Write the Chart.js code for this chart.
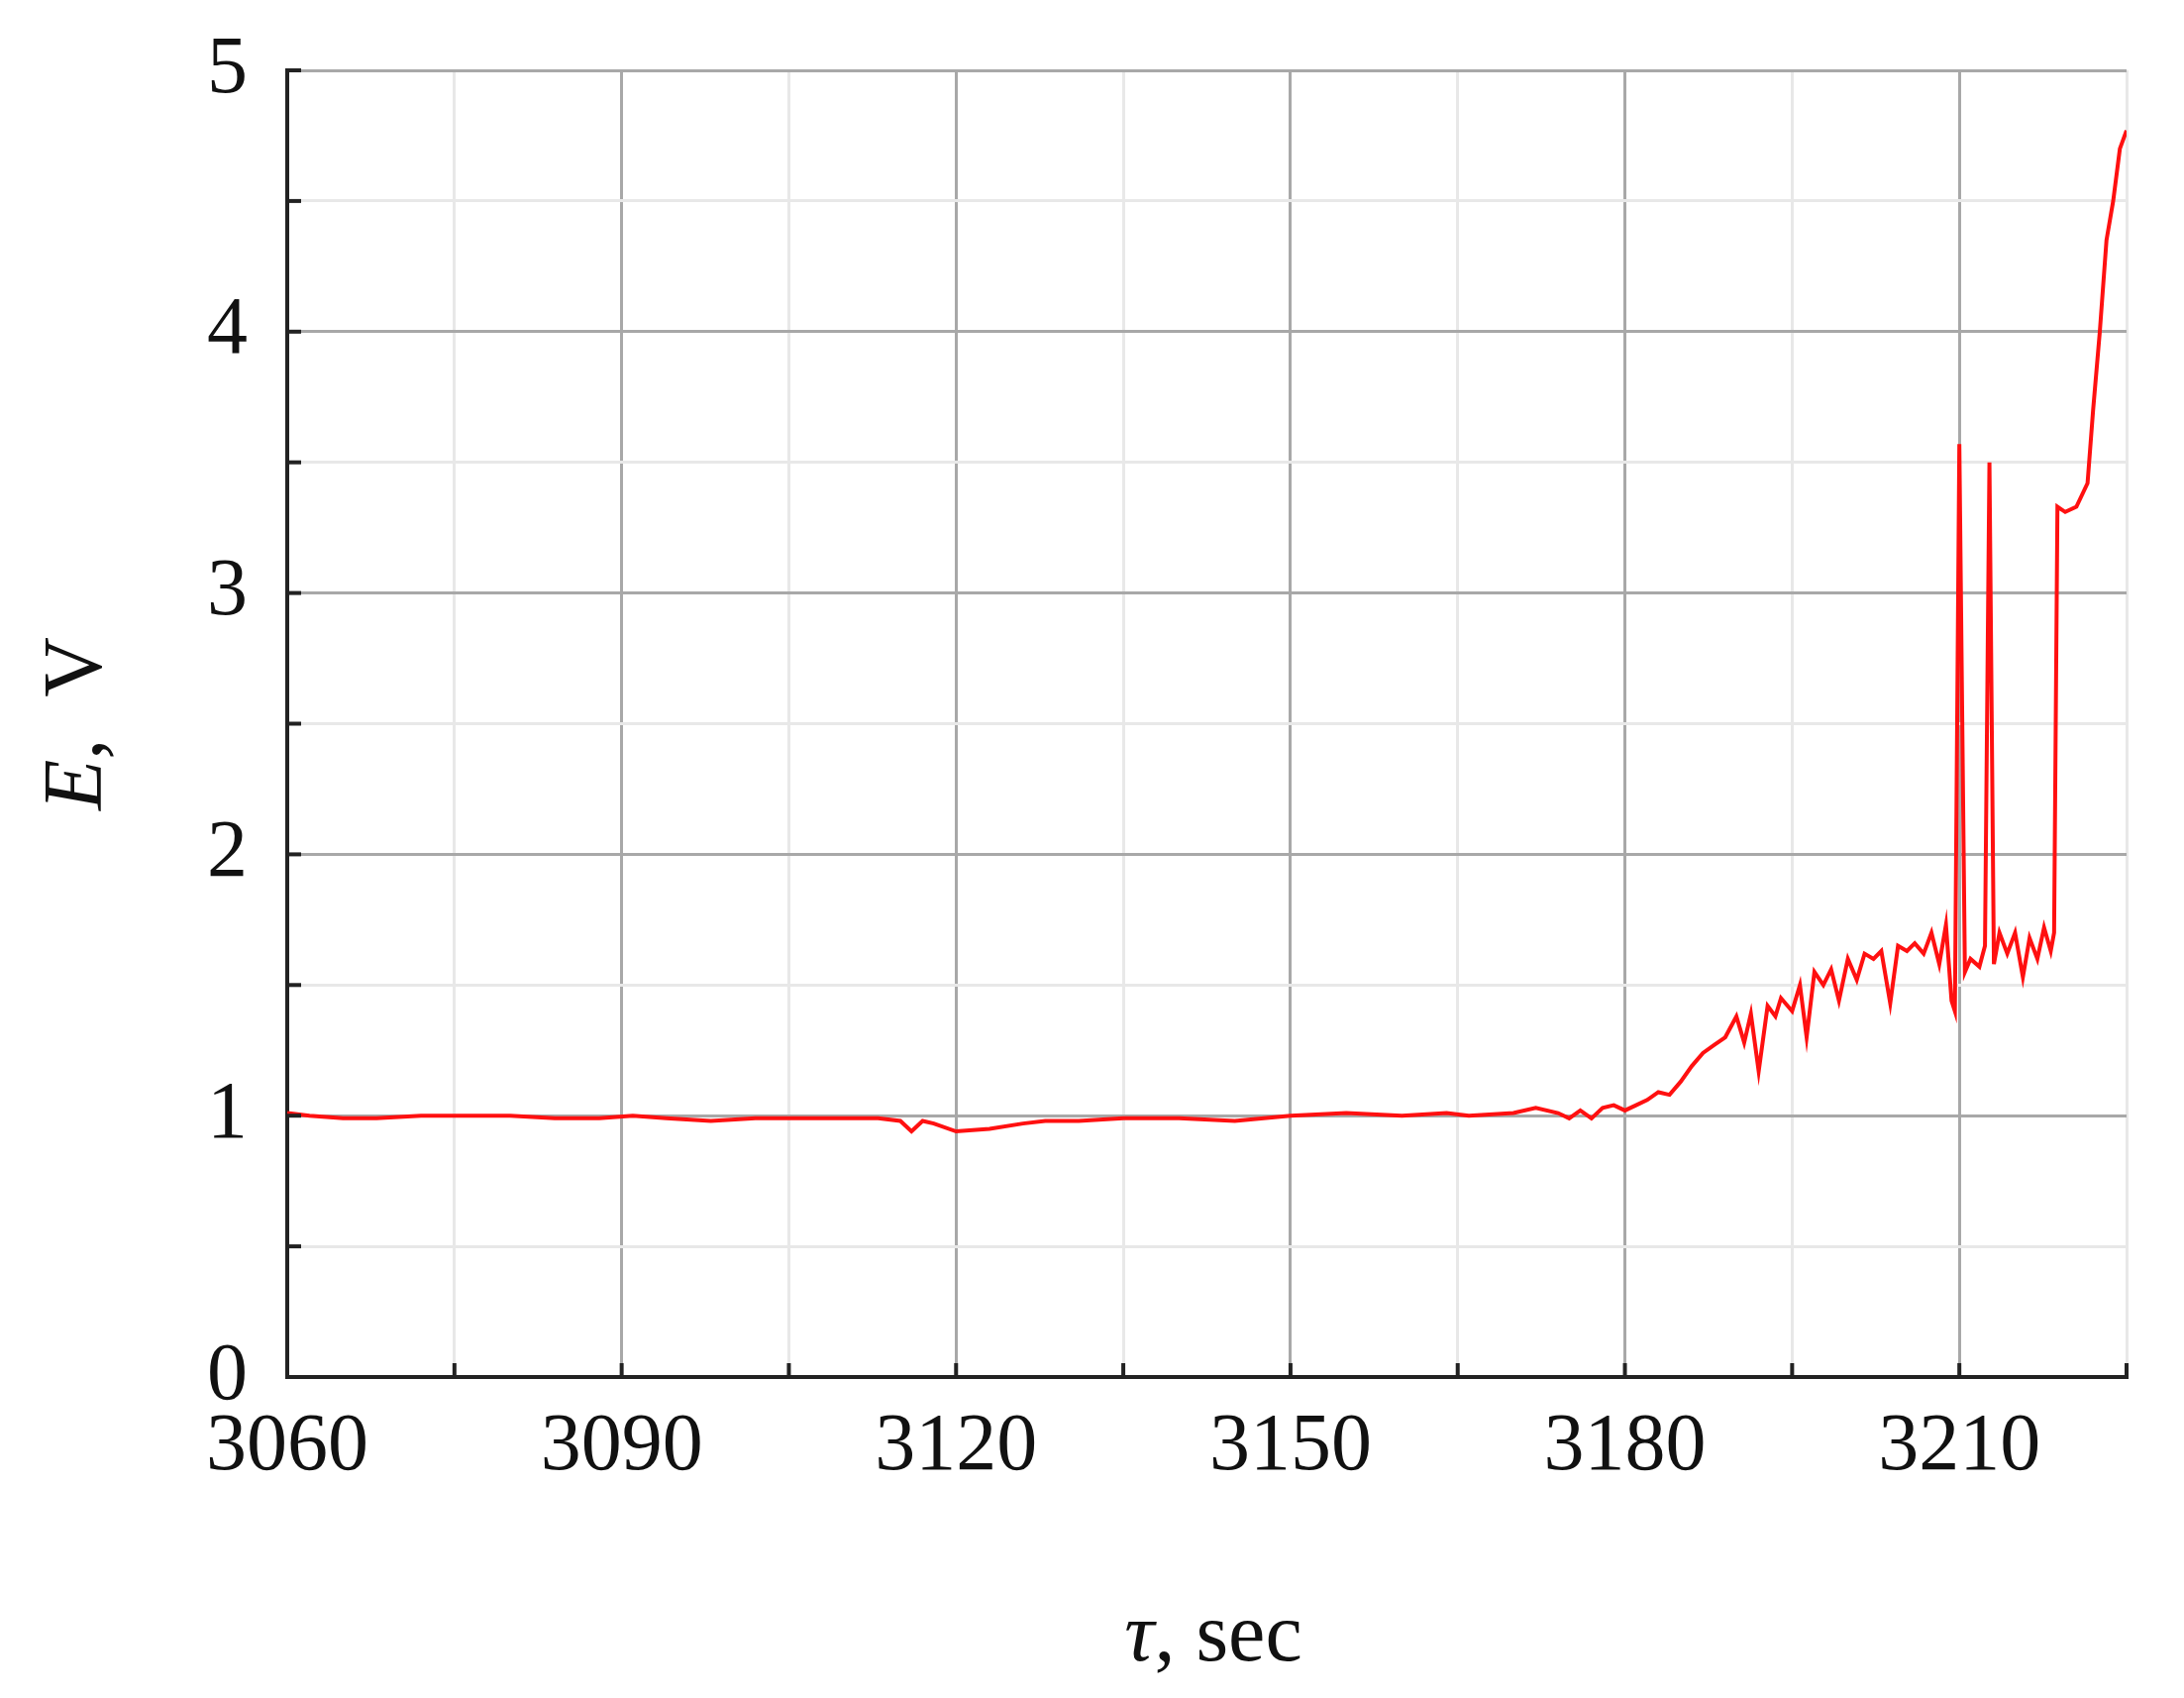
<!DOCTYPE html>
<html><head><meta charset="utf-8">
<script src="https://cdn.jsdelivr.net/npm/chart.js@4"></script>
<style>body{margin:0;background:#fff}#w{width:2205px;height:1714px;position:relative}</style>
</head><body><div id="w"><canvas id="c"></canvas></div>
<script>
const times = [3060,3062,3065,3068,3072,3076,3080,3084,3088,3091,3094,3098,3102,3106,3110,3113,3115,3116,3117,3118,3120,3123,3126,3128,3131,3135,3140,3145,3150,3155,3160,3164,3166,3170,3172,3174,3175,3176,3177,3178,3179,3180,3181,3182,3183,3184,3185,3186,3187,3188,3189,3190,3190.7,3191.3,3192,3192.8,3193.5,3194,3195,3195.7,3196.3,3197,3197.8,3198.5,3199.2,3200,3200.8,3201.5,3202.3,3203,3203.8,3204.5,3205.3,3206,3206.8,3207.5,3208.2,3208.8,3209.3,3209.6,3210,3210.5,3211,3211.8,3212.3,3212.7,3213.1,3213.6,3214.3,3215,3215.7,3216.3,3217,3217.6,3218.2,3218.5,3218.8,3219.5,3220.5,3221.5,3222,3222.6,3223.2,3223.8,3224.4,3225];
const volts = [1.01,1.0,0.99,0.99,1.0,1.0,1.0,0.99,0.99,1.0,0.99,0.98,0.99,0.99,0.99,0.99,0.98,0.94,0.98,0.97,0.94,0.95,0.97,0.98,0.98,0.99,0.99,0.98,1.0,1.01,1.0,1.01,1.0,1.01,1.03,1.01,0.99,1.02,0.99,1.03,1.04,1.02,1.04,1.06,1.09,1.08,1.13,1.19,1.24,1.27,1.3,1.38,1.28,1.39,1.17,1.42,1.38,1.45,1.4,1.5,1.3,1.55,1.5,1.56,1.44,1.6,1.52,1.62,1.6,1.63,1.43,1.65,1.63,1.66,1.62,1.7,1.58,1.73,1.44,1.4,3.57,1.55,1.6,1.57,1.65,3.5,1.58,1.7,1.62,1.7,1.53,1.68,1.6,1.72,1.63,1.7,3.33,3.31,3.33,3.42,3.7,4.0,4.35,4.5,4.7,4.77];
const xTicks = [3060,3090,3120,3150,3180,3210];
const yTicks = [0,1,2,3,4,5];
const pts = times.map((t,i)=>({x:t,y:volts[i]}));
const FAM = '"Liberation Serif","DejaVu Serif",serif';
const font = {family:FAM,size:82};
const titles = {id:'titles',afterDraw(ch){
  const c=ch.ctx;c.save();c.fillStyle='#111';c.textBaseline='middle';
  function mixed(parts,x,y){
    let w=0;parts.forEach(p=>{c.font=(p[1]?'italic ':'')+'84px '+FAM;w+=c.measureText(p[0]).width;});
    let cx=x-w/2;parts.forEach(p=>{c.font=(p[1]?'italic ':'')+'84px '+FAM;c.textAlign='left';c.fillText(p[0],cx,y);cx+=c.measureText(p[0]).width;});
  }
  mixed([['τ',true],[', sec',false]],1225,1654);
  c.translate(80,(ch.chartArea.top+ch.chartArea.bottom)/2);c.rotate(-Math.PI/2);
  mixed([['E',true],[',  V',false]],0,0);
  c.restore();c.save();c.strokeStyle='#222';c.lineWidth=4;
  const xs=ch.scales.x,ys=ch.scales.y,a=ch.chartArea;
  for(let v=3060;v<=3225;v+=15){const px=xs.getPixelForValue(v);c.beginPath();c.moveTo(px,a.bottom);c.lineTo(px,a.bottom-14);c.stroke();}
  for(let v=0;v<=5;v+=0.5){const py=ys.getPixelForValue(v);c.beginPath();c.moveTo(a.left,py);c.lineTo(a.left+14,py);c.stroke();}
  c.restore();
}};
new Chart(document.getElementById('c'),{
 type:'line',
 data:{datasets:[{data:pts,borderColor:'#ff1010',borderWidth:4,pointRadius:0,tension:0}]},
 options:{responsive:true,maintainAspectRatio:false,animation:false,
  layout:{padding:{left:0,right:58,top:71,bottom:0}},
  plugins:{legend:{display:false},tooltip:{enabled:false}},
  scales:{
   x:{type:'linear',min:3060,max:3225,afterFit:s=>{s.height=324;s.paddingLeft=0;s.paddingRight=0;},
     afterBuildTicks:a=>{const t=[];for(let v=3060;v<=3225;v+=15)t.push({value:v});a.ticks=t;},
     ticks:{color:'#111',font,autoSkip:false,maxRotation:0,padding:22,callback:v=>xTicks.includes(v)?String(v):''},
     grid:{color:c=>c.tick&&xTicks.includes(c.tick.value)?'#a8a8a8':'#e8e8e8',lineWidth:3,tickLength:0},
     border:{color:'#222',width:4}},
   y:{min:0,max:5,afterFit:s=>{s.width=290;s.paddingTop=0;s.paddingBottom=0;},
     afterBuildTicks:a=>{const t=[];for(let v=0;v<=5;v+=0.5)t.push({value:v});a.ticks=t;},
     ticks:{color:'#111',font,autoSkip:false,padding:40,callback:v=>yTicks.includes(v)?String(v):''},
     grid:{color:c=>c.tick&&yTicks.includes(c.tick.value)?'#a8a8a8':'#e8e8e8',lineWidth:3,tickLength:0},
     border:{color:'#222',width:4}}
  }},
 plugins:[titles]
});
</script></body></html>
